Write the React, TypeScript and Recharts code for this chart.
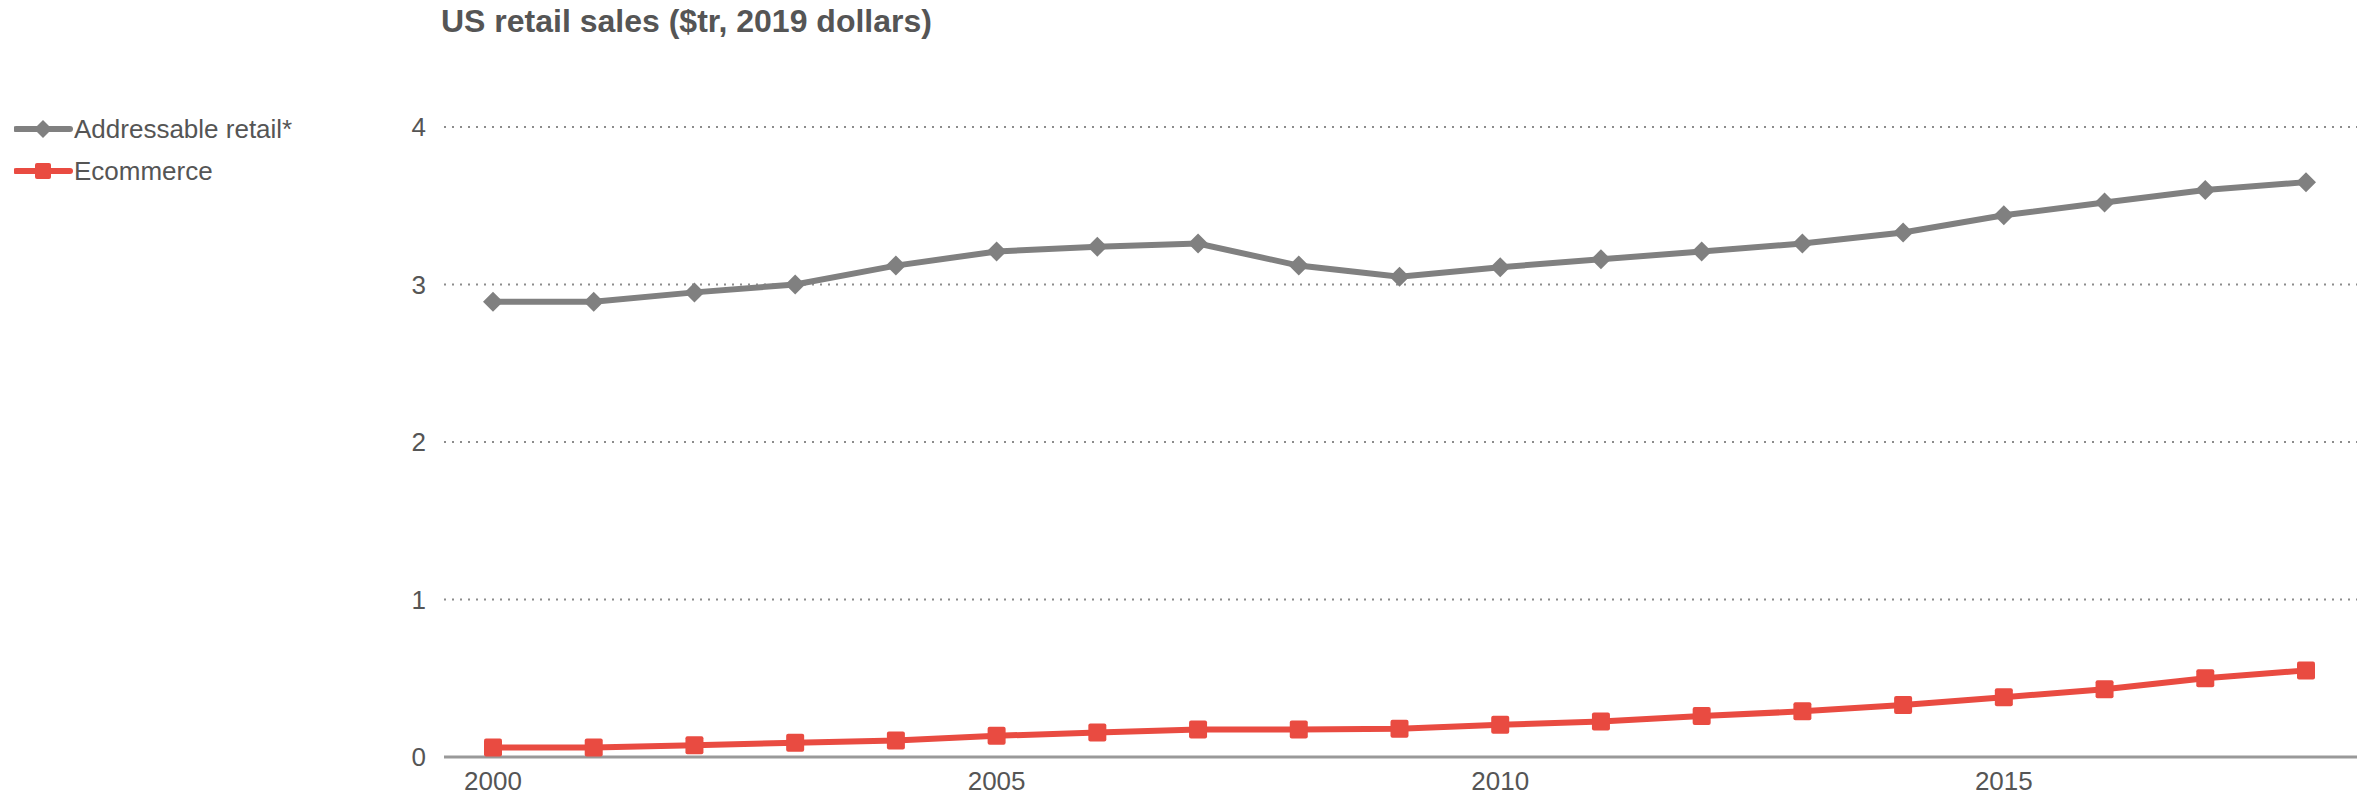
import React from 'react';
import { LineChart, Line, XAxis, YAxis, CartesianGrid } from 'recharts';

const years = [
  '2000', '2001', '2002', '2003', '2004', '2005', '2006', '2007', '2008', '2009',
  '2010', '2011', '2012', '2013', '2014', '2015', '2016', '2017', '2018',
];
const addressableRetail = [
  2.89, 2.89, 2.95, 3.0, 3.12, 3.21, 3.24, 3.26, 3.12, 3.05,
  3.11, 3.16, 3.21, 3.26, 3.33, 3.44, 3.52, 3.6, 3.65,
];
const ecommerce = [
  0.06, 0.06, 0.075, 0.09, 0.105, 0.135, 0.155, 0.175, 0.175, 0.18,
  0.205, 0.225, 0.26, 0.29, 0.33, 0.38, 0.43, 0.5, 0.55,
];
const yTicks = [0, 1, 2, 3, 4];

const GRAY = '#808080';
const RED = '#e94b41';
const TEXT = '#555555';
const FONT = '"Liberation Sans", Arial, Helvetica, sans-serif';

const data = years.map((year, i) => ({
  year,
  retail: addressableRetail[i],
  ecom: ecommerce[i],
}));

const Diamond = (props: any) => {
  const { cx, cy } = props;
  if (cx == null || cy == null) return null;
  const r = 10;
  return (
    <polygon
      points={`${cx},${cy - r} ${cx + r},${cy} ${cx},${cy + r} ${cx - r},${cy}`}
      fill={GRAY}
    />
  );
};

const Square = (props: any) => {
  const { cx, cy } = props;
  if (cx == null || cy == null) return null;
  return <rect x={cx - 9} y={cy - 9} width={18} height={18} rx={2} fill={RED} />;
};

const LegendRow = ({ label, color, shape }: { label: string; color: string; shape: 'diamond' | 'square' }) => (
  <div style={{ display: 'flex', alignItems: 'center', height: 42 }}>
    <svg width={60} height={20} style={{ display: 'block' }}>
      <line x1={2} y1={10} x2={56} y2={10} stroke={color} strokeWidth={6} strokeLinecap="round" />
      {shape === 'diamond' ? (
        <polygon points="29,1 38,10 29,19 20,10" fill={color} />
      ) : (
        <rect x={21} y={2} width={16} height={16} rx={2} fill={color} />
      )}
    </svg>
    <span style={{ fontSize: 26, color: TEXT }}>{label}</span>
  </div>
);

export default function App() {
  return (
    <div style={{ position: 'absolute', left: 0, top: 0, width: 2377, height: 798, background: '#fff', fontFamily: FONT }}>
      <div style={{ position: 'absolute', left: 441, top: 3, fontSize: 32, fontWeight: 'bold', color: TEXT }}>
        US retail sales ($tr, 2019 dollars)
      </div>
      <div style={{ position: 'absolute', left: 14, top: 108 }}>
        <LegendRow label="Addressable retail*" color={GRAY} shape="diamond" />
        <LegendRow label="Ecommerce" color={RED} shape="square" />
      </div>
      <LineChart
        width={2377}
        height={798}
        data={data}
        margin={{ top: 127, right: 20, bottom: 0, left: 0 }}
        style={{ position: 'absolute', left: 0, top: 0 }}
      >
        <CartesianGrid vertical={false} stroke="#8c8c8c" strokeDasharray="2 6" strokeWidth={2} />
        <XAxis
          dataKey="year"
          interval={4}
          height={41}
          padding={{ left: 49, right: 51 }}
          tickLine={false}
          tickSize={0}
          tickMargin={15}
          axisLine={{ stroke: '#999999', strokeWidth: 3 }}
          tick={{ fill: TEXT, fontSize: 26, fontFamily: FONT }}
        />
        <YAxis
          domain={[0, 4]}
          ticks={yTicks}
          width={444}
          axisLine={false}
          tickLine={false}
          tickSize={0}
          tickMargin={18}
          tick={{ fill: TEXT, fontSize: 26, fontFamily: FONT }}
        />
        <Line
          type="linear"
          dataKey="retail"
          stroke={GRAY}
          strokeWidth={6}
          dot={<Diamond />}
          activeDot={false}
          isAnimationActive={false}
        />
        <Line
          type="linear"
          dataKey="ecom"
          stroke={RED}
          strokeWidth={6}
          dot={<Square />}
          activeDot={false}
          isAnimationActive={false}
        />
      </LineChart>
    </div>
  );
}
